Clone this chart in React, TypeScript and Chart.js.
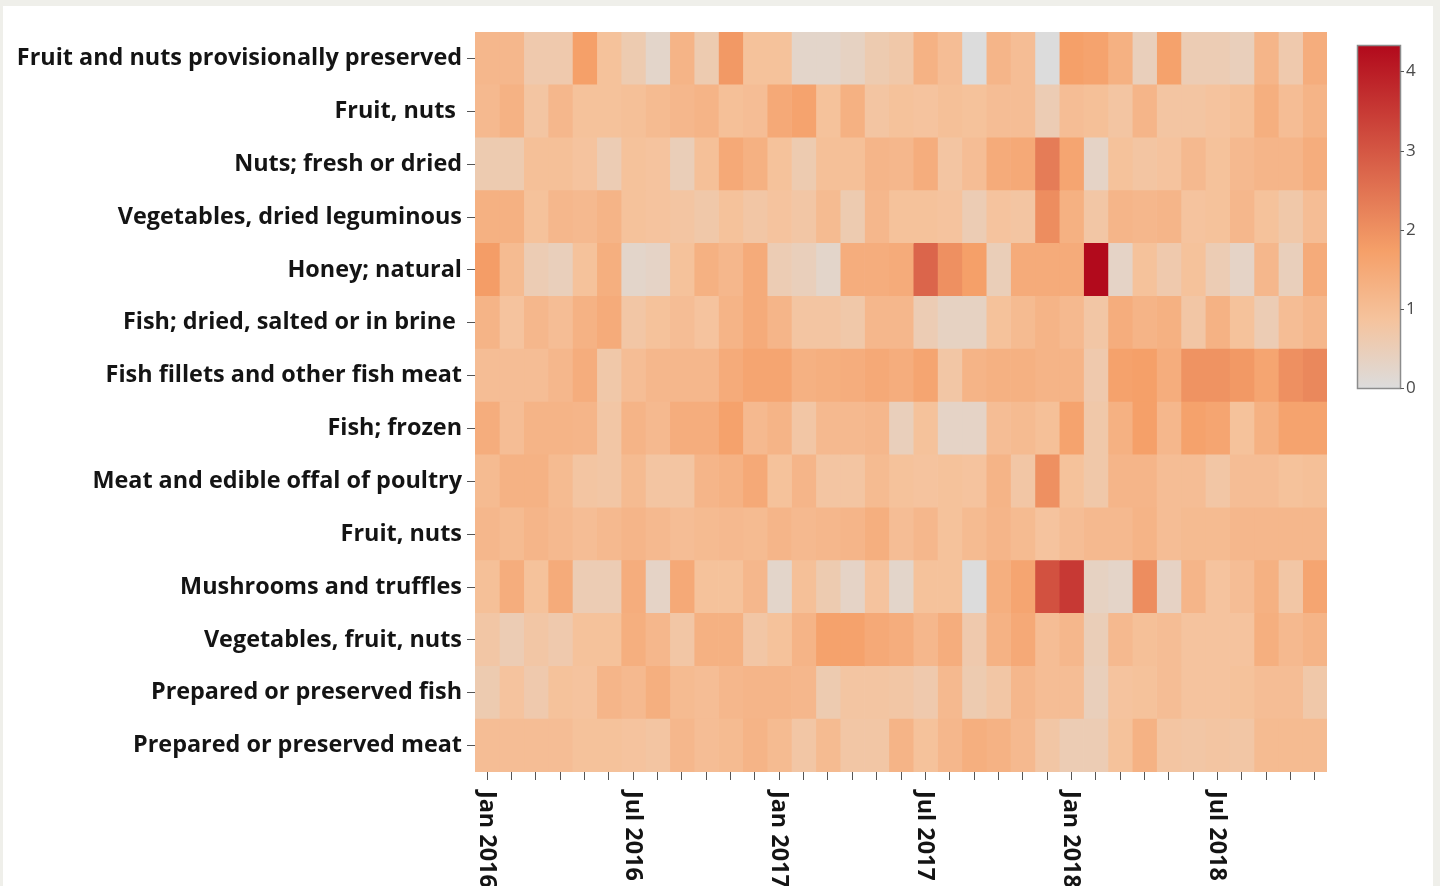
import React, { useEffect, useRef } from 'react';
import { Chart, registerables } from 'chart.js';

Chart.register(...registerables);

// ---------- data ----------
const months = [
  'Jan 2016', 'Feb 2016', 'Mar 2016', 'Apr 2016', 'May 2016', 'Jun 2016',
  'Jul 2016', 'Aug 2016', 'Sep 2016', 'Oct 2016', 'Nov 2016', 'Dec 2016',
  'Jan 2017', 'Feb 2017', 'Mar 2017', 'Apr 2017', 'May 2017', 'Jun 2017',
  'Jul 2017', 'Aug 2017', 'Sep 2017', 'Oct 2017', 'Nov 2017', 'Dec 2017',
  'Jan 2018', 'Feb 2018', 'Mar 2018', 'Apr 2018', 'May 2018', 'Jun 2018',
  'Jul 2018', 'Aug 2018', 'Sep 2018', 'Oct 2018', 'Nov 2018',
];

const tickMonths = ['Jan 2016', 'Jul 2016', 'Jan 2017', 'Jul 2017', 'Jan 2018', 'Jul 2018'];

const products = [
  'Fruit and nuts provisionally preserved',
  'Fruit, nuts ',
  'Nuts; fresh or dried',
  'Vegetables, dried leguminous',
  'Honey; natural',
  'Fish; dried, salted or in brine ',
  'Fish fillets and other fish meat',
  'Fish; frozen',
  'Meat and edible offal of poultry',
  'Fruit, nuts',
  'Mushrooms and truffles',
  'Vegetables, fruit, nuts',
  'Prepared or preserved fish',
  'Prepared or preserved meat',
];

const fruitNutsPreserved = [1.15, 1.15, 0.65, 0.65, 1.73, 0.9, 0.6, 0.25, 1.23, 0.6, 1.85, 0.9, 0.9, 0.25, 0.25, 0.35, 0.6, 0.7, 1.28, 1.0, 0, 1.2, 1.0, 0, 1.73, 1.65, 1.32, 0.45, 1.68, 0.55, 0.55, 0.45, 1.2, 0.65, 1.4];
const fruitNutsA = [1.1, 1.28, 0.8, 1.15, 0.9, 0.9, 0.95, 1.07, 1.15, 1.23, 0.95, 1.0, 1.5, 1.65, 0.9, 1.32, 0.8, 0.9, 0.85, 0.95, 0.9, 1.0, 1.0, 0.55, 1.0, 0.95, 0.8, 1.2, 0.8, 0.8, 0.85, 0.95, 1.37, 1.0, 1.23];
const nutsFreshDried = [0.6, 0.6, 0.95, 0.95, 0.85, 0.55, 0.9, 0.85, 0.5, 0.95, 1.5, 1.32, 0.9, 0.6, 0.95, 0.95, 1.2, 1.15, 1.4, 0.8, 1.0, 1.45, 1.5, 2.35, 1.6, 0.3, 0.9, 0.8, 0.85, 1.1, 0.9, 1.1, 1.2, 1.2, 1.4];
const vegDriedLeguminous = [1.32, 1.32, 0.9, 1.15, 1.1, 1.23, 0.9, 0.85, 0.8, 0.7, 0.9, 0.75, 0.85, 0.75, 1.07, 0.6, 1.15, 0.9, 0.9, 0.85, 0.55, 0.85, 0.8, 2.05, 1.32, 0.75, 1.2, 1.15, 1.2, 0.85, 0.9, 1.15, 0.9, 0.7, 1.0];
const honeyNatural = [1.78, 1.07, 0.55, 0.45, 0.9, 1.37, 0.25, 0.3, 0.9, 1.32, 1.15, 1.45, 0.55, 0.45, 0.25, 1.4, 1.4, 1.45, 2.75, 2.0, 1.73, 0.5, 1.45, 1.45, 1.45, 4.32, 0.3, 0.9, 0.65, 0.9, 0.55, 0.3, 1.15, 0.45, 1.45];
const fishDriedSalted = [1.23, 0.85, 1.15, 1.0, 1.28, 1.45, 0.75, 0.9, 1.0, 0.85, 1.23, 1.45, 1.2, 0.8, 0.8, 0.7, 1.15, 1.15, 0.55, 0.35, 0.35, 0.9, 1.07, 1.23, 1.1, 0.75, 1.4, 1.23, 1.32, 0.75, 1.28, 0.9, 0.55, 1.0, 1.15];
const fishFillets = [1.0, 1.0, 1.0, 1.15, 1.4, 0.7, 1.0, 1.15, 1.15, 1.15, 1.45, 1.6, 1.6, 1.32, 1.37, 1.4, 1.5, 1.4, 1.6, 0.75, 1.23, 1.32, 1.32, 1.23, 1.23, 0.65, 1.68, 1.73, 1.4, 1.95, 1.95, 1.85, 1.6, 2.0, 2.15];
const fishFrozen = [1.4, 1.0, 1.23, 1.23, 1.2, 0.75, 1.23, 1.1, 1.4, 1.4, 1.68, 1.1, 1.23, 0.75, 1.1, 1.1, 1.15, 0.45, 0.9, 0.3, 0.3, 1.0, 1.07, 0.95, 1.65, 0.7, 1.32, 1.73, 1.15, 1.68, 1.6, 0.9, 1.32, 1.65, 1.65];
const poultryMeat = [1.07, 1.28, 1.28, 1.07, 0.8, 0.75, 1.07, 0.8, 0.8, 1.2, 1.28, 1.5, 0.9, 1.2, 0.8, 0.8, 1.07, 0.9, 0.85, 0.9, 0.85, 1.23, 0.75, 2.0, 0.9, 0.7, 1.2, 1.2, 1.0, 1.0, 0.75, 1.0, 1.0, 0.9, 0.95];
const fruitNutsB = [1.15, 1.07, 1.2, 1.1, 1.0, 1.1, 1.2, 1.1, 1.0, 1.07, 1.1, 1.07, 1.2, 1.1, 1.15, 1.2, 1.37, 1.0, 1.15, 0.9, 1.07, 1.2, 1.07, 0.85, 1.0, 1.1, 1.1, 1.23, 1.0, 1.07, 1.07, 1.15, 1.15, 1.15, 1.15];
const mushroomsTruffles = [0.95, 1.4, 0.9, 1.45, 0.55, 0.55, 1.4, 0.3, 1.5, 0.9, 0.9, 1.15, 0.25, 0.95, 0.6, 0.3, 0.85, 0.25, 0.9, 0.9, 0, 1.37, 1.6, 3.1, 3.5, 0.35, 0.28, 2.05, 0.33, 1.2, 0.85, 1.0, 1.32, 0.75, 1.6];
const vegFruitNuts = [0.75, 0.55, 0.75, 0.65, 0.9, 0.9, 1.37, 1.15, 0.75, 1.32, 1.32, 0.75, 0.9, 1.23, 1.68, 1.68, 1.5, 1.4, 1.15, 1.4, 0.65, 1.28, 1.5, 1.0, 1.15, 0.5, 1.1, 0.95, 1.0, 0.85, 0.85, 0.85, 1.37, 1.1, 1.23];
const preparedFish = [0.6, 0.85, 0.65, 0.9, 0.85, 1.2, 1.1, 1.37, 1.07, 1.0, 1.15, 1.2, 1.2, 1.15, 0.6, 0.8, 0.8, 0.75, 0.65, 1.1, 0.6, 0.75, 1.15, 1.0, 1.0, 0.45, 0.85, 0.9, 1.0, 0.85, 0.85, 0.9, 1.0, 1.0, 0.7];
const preparedMeat = [1.0, 1.0, 1.0, 1.0, 0.9, 0.9, 0.85, 0.8, 1.15, 1.0, 1.07, 1.23, 1.07, 0.75, 1.07, 0.75, 0.75, 1.23, 0.9, 1.15, 1.37, 1.28, 1.1, 0.75, 0.55, 0.55, 0.9, 1.28, 0.8, 0.75, 0.8, 0.75, 1.07, 1.07, 1.07];

const rowValues = [
  fruitNutsPreserved, fruitNutsA, nutsFreshDried, vegDriedLeguminous, honeyNatural,
  fishDriedSalted, fishFillets, fishFrozen, poultryMeat, fruitNutsB,
  mushroomsTruffles, vegFruitNuts, preparedFish, preparedMeat,
];

const zMin = 0;
const zMax = 4.32;
const colorbarTicks = [0, 1, 2, 3, 4];

// Plotly "Reds" colour scale
const redsStops: [number, number[]][] = [
  [0, [220, 220, 220]],
  [0.2, [245, 195, 157]],
  [0.4, [245, 160, 105]],
  [1, [178, 10, 28]],
];

function colorFor(v: number): string {
  let f = (v - zMin) / (zMax - zMin);
  f = Math.max(0, Math.min(1, f));
  for (let i = 1; i < redsStops.length; i++) {
    const [s1, c1] = redsStops[i];
    const [s0, c0] = redsStops[i - 1];
    if (f <= s1) {
      const t = (f - s0) / (s1 - s0);
      const c = c0.map((a, k) => Math.round(a + (c1[k] - a) * t));
      return `rgb(${c[0]},${c[1]},${c[2]})`;
    }
  }
  const c = redsStops[redsStops.length - 1][1];
  return `rgb(${c[0]},${c[1]},${c[2]})`;
}

const LABEL_FONT = '"Open Sans"';
const LABEL_SIZE = 23.4;
const LABEL_COLOR = '#141414';

// ---------- plugins ----------
const xLabelPlugin = {
  id: 'xRotatedLabels',
  afterDraw(chart: any) {
    const xs = chart.scales.x;
    const ctx = chart.ctx;
    ctx.save();
    ctx.font = `bold ${LABEL_SIZE}px ${LABEL_FONT}`;
    ctx.fillStyle = LABEL_COLOR;
    ctx.textAlign = 'left';
    ctx.textBaseline = 'alphabetic';
    months.forEach((m, i) => {
      if (!tickMonths.includes(m)) return;
      const x = xs.getPixelForValue(i + 0.5);
      ctx.save();
      ctx.translate(x - 7.5, xs.top + 19);
      ctx.rotate(Math.PI / 2);
      ctx.fillText(m, 0, 0);
      ctx.restore();
    });
    ctx.restore();
  },
};

const colorbarPlugin = {
  id: 'colorbar',
  afterDraw(chart: any) {
    const ctx = chart.ctx;
    const left = 1358;
    const right = 1400;
    const top = 46;
    const bottom = 388;
    const yFor = (v: number) => bottom - ((v - zMin) / (zMax - zMin)) * (bottom - top);
    ctx.save();
    const g = ctx.createLinearGradient(0, bottom, 0, top);
    redsStops.forEach(([s, c]) => g.addColorStop(s, `rgb(${c[0]},${c[1]},${c[2]})`));
    ctx.fillStyle = g;
    ctx.fillRect(left, top, right - left, bottom - top);
    ctx.strokeStyle = '#8c8c8c';
    ctx.lineWidth = 1.5;
    ctx.strokeRect(left - 0.5, top - 0.5, right - left + 1, bottom - top + 1);
    ctx.strokeStyle = '#555';
    ctx.lineWidth = 1;
    ctx.fillStyle = '#4a4a4a';
    ctx.font = '17px "Open Sans"';
    ctx.textAlign = 'left';
    ctx.textBaseline = 'middle';
    colorbarTicks.forEach((t) => {
      const y = Math.round(yFor(t)) + 0.5;
      ctx.beginPath();
      ctx.moveTo(right + 0.5, y);
      ctx.lineTo(right + 4, y);
      ctx.stroke();
      ctx.fillText(String(t), right + 6, y);
    });
    ctx.restore();
  },
};

export default function App() {
  const canvasRef = useRef<HTMLCanvasElement | null>(null);

  useEffect(() => {
    document.body.style.margin = '0';
    document.body.style.background = '#efefea';
    const canvas = canvasRef.current;
    if (!canvas) return;

    const chart = new Chart(canvas, {
      type: 'bar',
      data: {
        labels: products,
        datasets: months.map((m, i) => ({
          label: m,
          data: products.map(() => [i, i + 1]),
          backgroundColor: rowValues.map((row) => colorFor(row[i])),
          borderWidth: 0,
          barPercentage: 1,
          categoryPercentage: 1,
          grouped: false,
        })) as any,
      },
      options: {
        indexAxis: 'y',
        animation: false,
        responsive: false,
        maintainAspectRatio: false,
        layout: { padding: { top: 32, right: 113, left: 0, bottom: 0 } },
        plugins: {
          legend: { display: false },
          tooltip: { enabled: false },
        },
        scales: {
          x: {
            type: 'linear',
            min: 0,
            max: months.length,
            afterBuildTicks: (s: any) => {
              s.ticks = months.map((_, i) => ({ value: i + 0.5 }));
            },
            afterFit: (s: any) => {
              s.height = 114;
            },
            ticks: { display: false, autoSkip: false },
            grid: { drawOnChartArea: false, drawTicks: true, tickLength: 8, color: '#555', lineWidth: 1 },
            border: { display: false },
          },
          y: {
            type: 'category',
            offset: true,
            afterFit: (s: any) => {
              s.width = 475;
            },
            grid: { offset: false, drawOnChartArea: false, drawTicks: true, tickLength: 8, color: '#555', lineWidth: 1 },
            border: { display: false },
            ticks: {
              autoSkip: false,
              padding: 5,
              color: LABEL_COLOR,
              font: { family: LABEL_FONT, size: LABEL_SIZE, weight: 'bold' },
            },
          },
        },
      } as any,
      plugins: [xLabelPlugin, colorbarPlugin],
    });

    return () => chart.destroy();
  }, []);

  return (
    <div style={{ position: 'relative', width: 1440, height: 886, background: '#efefea', overflow: 'hidden' }}>
      <div style={{ position: 'absolute', left: 3, top: 6, width: 1430, height: 900, background: '#ffffff' }} />
      <canvas
        ref={canvasRef}
        width={1440}
        height={886}
        style={{ position: 'absolute', left: 0, top: 0, width: 1440, height: 886 }}
      />
    </div>
  );
}
